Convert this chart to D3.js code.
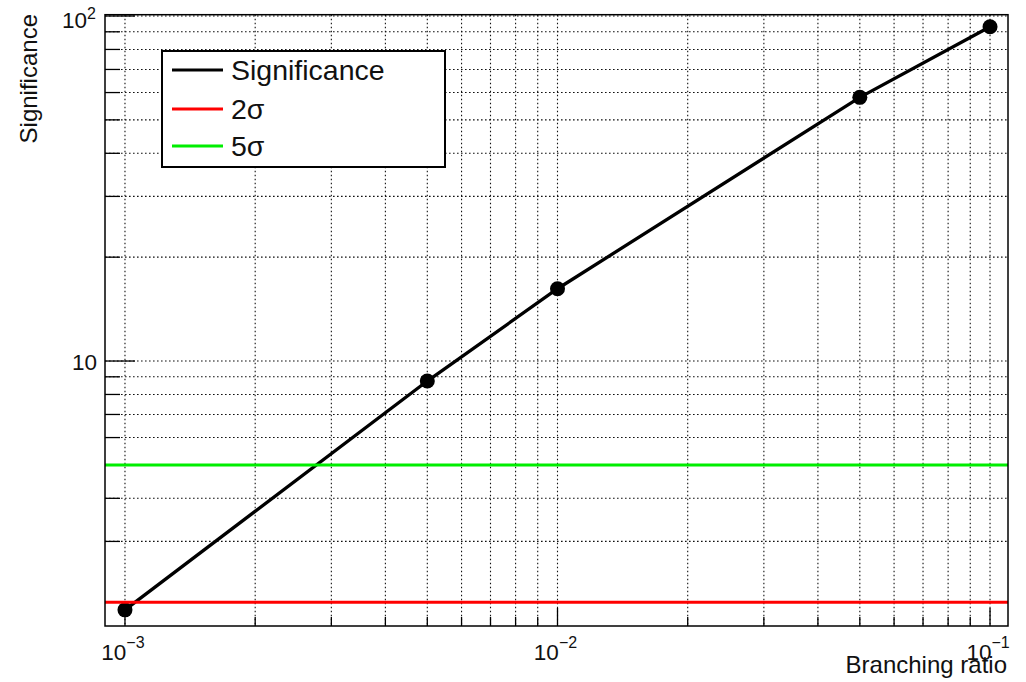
<!DOCTYPE html>
<html><head><meta charset="utf-8">
<script src="https://cdn.jsdelivr.net/npm/d3@7"></script>
<style>
html,body{margin:0;padding:0;background:#fff;}
svg{display:block;font-family:"Liberation Sans",Arial,Helvetica,sans-serif;}
</style></head>
<body>
<svg id="c" width="1026" height="682"></svg>
<script>
const branching = [0.001, 0.005, 0.01, 0.05, 0.1];
const significance = [1.90, 8.75, 16.2, 58.1, 93.1];
const sigma2 = 2;
const sigma5 = 5;
const xDomain = [0.0008991, 0.11004];
const yDomain = [1.706, 100.88];
const xMajor = [0.001, 0.01, 0.1];
const xMajorExp = ["\u22123", "\u22122", "\u22121"];
const yMajor = [10, 100];
const legendLabels = ["Significance", "2\u03c3", "5\u03c3"];
const legendColors = ["#000000", "#ff0000", "#00ee00"];

const L = 105, R = 1008, T = 14.7, B = 626;
const svg = d3.select("#c");
const x = d3.scaleLog().domain(xDomain).range([L, R]);
const y = d3.scaleLog().domain(yDomain).range([B, T]);

const xTicks = [];
[0.001, 0.01].forEach(d => { for (let k = 1; k <= 9; k++) xTicks.push(d * k); });
xTicks.push(0.1);
const yTicks = [];
[1, 10].forEach(d => { for (let k = 1; k <= 9; k++) { const v = d * k; if (v >= yDomain[0] && v <= yDomain[1]) yTicks.push(v); } });
yTicks.push(100);

const g = svg.append("g");
g.selectAll("line.gx").data(xTicks).join("line")
  .attr("x1", d => x(d)).attr("x2", d => x(d)).attr("y1", T).attr("y2", B)
  .attr("stroke", "#111").attr("stroke-width", 1.1).attr("stroke-dasharray", "1.6,2.4");
g.selectAll("line.gy").data(yTicks).join("line")
  .attr("y1", d => y(d)).attr("y2", d => y(d)).attr("x1", L).attr("x2", R)
  .attr("stroke", "#111").attr("stroke-width", 1.1).attr("stroke-dasharray", "1.6,2.4");

const isMajorX = d => xMajor.some(m => Math.abs(m - d) / m < 1e-6);
const isMajorY = d => yMajor.some(m => Math.abs(m - d) / m < 1e-6);
g.selectAll("line.tx").data(xTicks).join("line")
  .attr("x1", d => x(d)).attr("x2", d => x(d)).attr("y1", B).attr("y2", d => B - (isMajorX(d) ? 18 : 9))
  .attr("stroke", "#000").attr("stroke-width", 1.3);
g.selectAll("line.ty").data(yTicks).join("line")
  .attr("y1", d => y(d)).attr("y2", d => y(d)).attr("x1", L).attr("x2", d => L + (isMajorY(d) ? 30 : 15))
  .attr("stroke", "#000").attr("stroke-width", 1.3);

const pts = branching.map((b, i) => [b, significance[i]]);
svg.append("path").datum(pts)
  .attr("d", d3.line().x(d => x(d[0])).y(d => y(d[1])))
  .attr("fill", "none").attr("stroke", "#000").attr("stroke-width", 3.3);
svg.selectAll("circle.m").data(pts).join("circle")
  .attr("cx", d => x(d[0])).attr("cy", d => y(d[1])).attr("r", 7.5).attr("fill", "#000");

svg.append("line").attr("x1", L).attr("x2", R).attr("y1", y(sigma2)).attr("y2", y(sigma2))
  .attr("stroke", legendColors[1]).attr("stroke-width", 3);
svg.append("line").attr("x1", L).attr("x2", R).attr("y1", y(sigma5)).attr("y2", y(sigma5))
  .attr("stroke", legendColors[2]).attr("stroke-width", 3);

svg.append("rect").attr("x", L).attr("y", T).attr("width", R - L).attr("height", B - T)
  .attr("fill", "none").attr("stroke", "#000").attr("stroke-width", 1.5);

const xl = svg.selectAll("text.xl").data(xMajor).join("text")
  .attr("x", d => x(d) - 2).attr("y", 660).attr("text-anchor", "middle")
  .attr("font-size", 22.5).attr("fill", "#111");
xl.append("tspan").text("10");
xl.append("tspan").attr("dy", -12).attr("font-size", 16).text((d, i) => xMajorExp[i]);

svg.append("text").attr("x", 97).attr("y", y(10) + 8.5).attr("text-anchor", "end")
  .attr("font-size", 22.5).attr("fill", "#111").text("10");
const y2 = svg.append("text").attr("x", 96).attr("y", y(100) + 11.5).attr("text-anchor", "end")
  .attr("font-size", 22.5).attr("fill", "#111");
y2.append("tspan").text("10");
y2.append("tspan").attr("dy", -9).attr("font-size", 16).text("2");

svg.append("text").attr("x", 1007).attr("y", 673).attr("text-anchor", "end")
  .attr("font-size", 24).attr("fill", "#111").text("Branching ratio");
svg.append("text").attr("transform", "translate(37,14) rotate(-90)").attr("text-anchor", "end")
  .attr("font-size", 24).attr("fill", "#111").text("Significance");

const lg = svg.append("g");
lg.append("rect").attr("x", 162).attr("y", 51).attr("width", 283).attr("height", 116)
  .attr("fill", "#fff").attr("stroke", "#000").attr("stroke-width", 2);
const rows = [70, 109, 146];
legendLabels.forEach((lab, i) => {
  lg.append("line").attr("x1", 172).attr("x2", 223).attr("y1", rows[i]).attr("y2", rows[i])
    .attr("stroke", legendColors[i]).attr("stroke-width", 3);
  lg.append("text").attr("x", 231).attr("y", rows[i] + 9.5).attr("font-size", 28.5).attr("fill", "#111").text(lab);
});
</script>
</body></html>
